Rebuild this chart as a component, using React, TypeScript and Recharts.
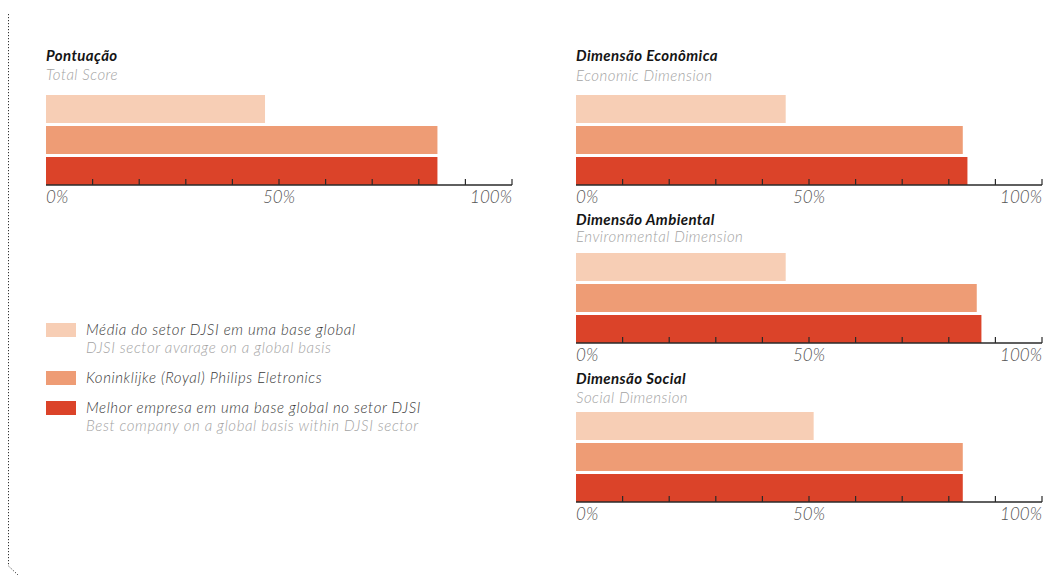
import { BarChart, Bar, XAxis, YAxis } from 'recharts';

const categories = ['Pontuação', 'Dimensão Econômica', 'Dimensão Ambiental', 'Dimensão Social'];
const subtitles = ['Total Score', 'Economic Dimension', 'Environmental Dimension', 'Social Dimension'];

// percent values per chart
const mediaValues = [47, 45, 45, 51];
const philipsValues = [84, 83, 86, 83];
const melhorValues = [84, 84, 87, 83];

const seriesKeys = ['media', 'philips', 'melhor'];
const seriesColors = ['#F7CEB5', '#EE9C75', '#DB4329'];
const seriesNames = [
  'Média do setor DJSI em uma base global',
  'Koninklijke (Royal) Philips Eletronics',
  'Melhor empresa em uma base global no setor DJSI',
];
const seriesNamesEn = ['DJSI sector avarage on a global basis', '', 'Best company on a global basis within DJSI sector'];

const xTicks = [0, 10, 20, 30, 40, 50, 60, 70, 80, 90, 100];
const labelledTicks = [0, 50, 100];

const FONT = 'Lato, "Open Sans", sans-serif';

// where each small chart sits on the page
const layout = [
  { left: 46, top: 95, titleY: 61, subY: 80 },
  { left: 576, top: 95, titleY: 61, subY: 81 },
  { left: 576, top: 253, titleY: 225, subY: 242 },
  { left: 576, top: 412, titleY: 384, subY: 403 },
];

const PLOT_W = 466;
const PLOT_H = 90;

function PercentTick(props: any) {
  const { x, y, payload } = props;
  const v = payload.value;
  const anchor = v === 0 ? 'start' : v === 100 ? 'end' : 'middle';
  return (
    <g>
      {v > 0 && <line x1={x} x2={x} y1={y} y2={y - 6} stroke="#2a2a2a" strokeWidth={1.2} />}
      {labelledTicks.includes(v) && (
        <text x={x} y={y + 18} textAnchor={anchor} fontFamily={FONT} fontStyle="italic" fontWeight={300} fontSize={17} fill="#555">
          {v}%
        </text>
      )}
    </g>
  );
}

function ScoreChart({ index }: { index: number }) {
  const pos = layout[index];
  const data = [
    {
      name: categories[index],
      media: mediaValues[index],
      philips: philipsValues[index],
      melhor: melhorValues[index],
    },
  ];
  return (
    <div style={{ position: 'absolute', left: pos.left - 1, top: pos.top }}>
      <BarChart
        width={PLOT_W + 3}
        height={PLOT_H + 30}
        data={data}
        layout="vertical"
        margin={{ top: 0, right: 2, left: 1, bottom: 0 }}
        barCategoryGap={0}
        barGap={3}
      >
        <YAxis type="category" dataKey="name" width={0} tick={false} tickLine={false} axisLine={{ stroke: '#444' }} />
        {seriesKeys.map((k, i) => (
          <Bar key={k} dataKey={k} name={seriesNames[i]} fill={seriesColors[i]} isAnimationActive={false} />
        ))}
        <XAxis
          type="number"
          domain={[0, 100]}
          ticks={xTicks}
          interval={0}
          height={30}
          tickSize={0}
          tickMargin={0}
          tickLine={false}
          axisLine={{ stroke: '#2a2a2a', strokeWidth: 1.5 }}
          tick={<PercentTick />}
        />
      </BarChart>
    </div>
  );
}

export default function App() {
  return (
    <div style={{ position: 'absolute', left: 0, top: 0, width: 1054, height: 575, background: '#fff', overflow: 'hidden' }}>
      <svg width={1054} height={575} style={{ position: 'absolute', left: 0, top: 0 }}>
        {/* dotted frame on the left */}
        <polyline points="8.5,14 8.5,566 18,575" fill="none" stroke="#333" strokeWidth={1} strokeDasharray="1.2 1.8" />
        {layout.map((pos, i) => (
          <g key={categories[i]}>
            <text x={pos.left} y={pos.titleY} fontFamily={FONT} fontStyle="italic" fontWeight={700} fontSize={15} letterSpacing={0.4} fill="#151515">
              {categories[i]}
            </text>
            <text x={pos.left} y={pos.subY} fontFamily={FONT} fontStyle="italic" fontWeight={300} fontSize={15} letterSpacing={0.5} fill="#a3a3a3">
              {subtitles[i]}
            </text>
          </g>
        ))}
        {/* legend */}
        {seriesNames.map((name, i) => {
          const sy = [323, 371, 401][i];
          return (
            <g key={name}>
              <rect x={46} y={sy} width={30} height={14} fill={seriesColors[i]} />
              <text x={86} y={sy + 12} fontFamily={FONT} fontStyle="italic" fontWeight={300} fontSize={15} letterSpacing={0.6} fill="#3a3a3a">
                {name}
              </text>
              {seriesNamesEn[i] && (
                <text x={86} y={sy + 30} fontFamily={FONT} fontStyle="italic" fontWeight={300} fontSize={15} letterSpacing={0.6} fill="#a3a3a3">
                  {seriesNamesEn[i]}
                </text>
              )}
            </g>
          );
        })}
      </svg>
      {categories.map((c, i) => (
        <ScoreChart key={c} index={i} />
      ))}
    </div>
  );
}
